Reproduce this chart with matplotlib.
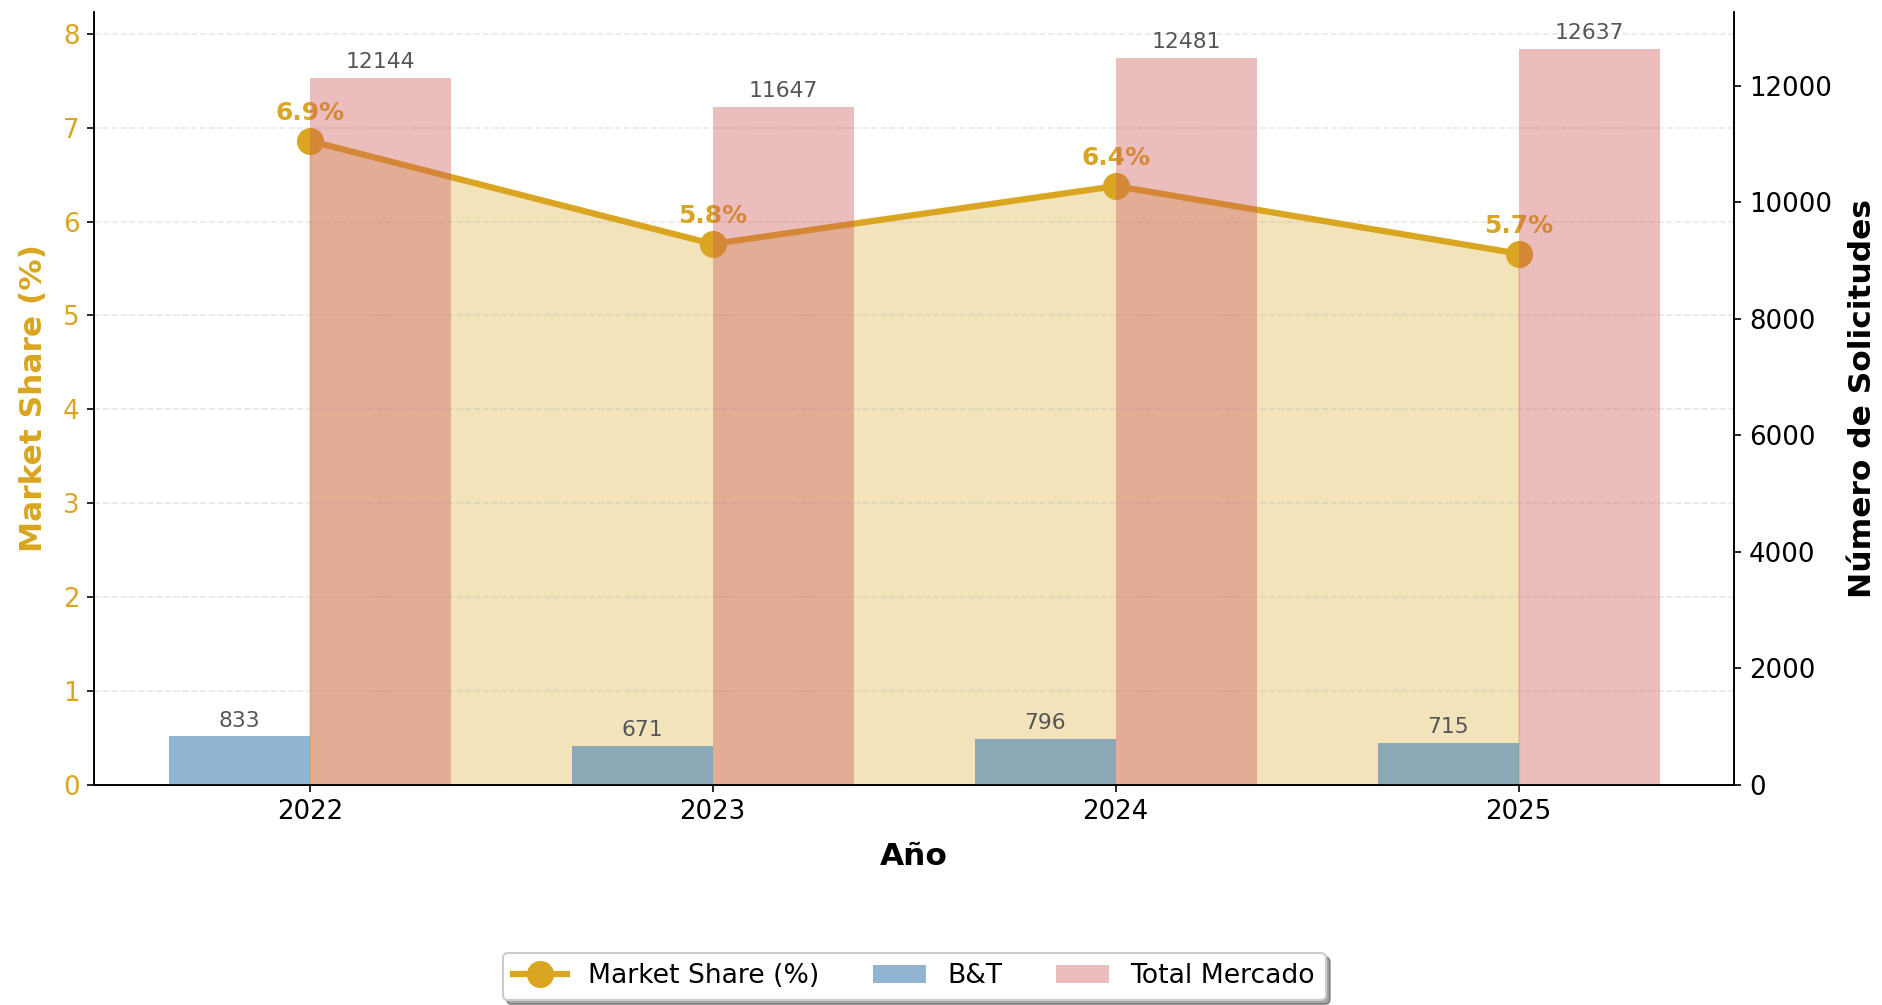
import numpy as np
import matplotlib
matplotlib.use("Agg")
import matplotlib.pyplot as plt

years = ["2022", "2023", "2024", "2025"]
bt_requests = [833, 671, 796, 715]
total_market = [12144, 11647, 12481, 12637]
market_share = [100 * b / t for b, t in zip(bt_requests, total_market)]

gold = "#DAA520"
x = np.arange(len(years))
width = 0.35

fig, ax1 = plt.subplots(figsize=(12.553, 6.7), dpi=150)
fig.subplots_adjust(left=0.05, right=0.921, top=0.988, bottom=0.219)

# market share line + fill on the left axis
line, = ax1.plot(x, market_share, color=gold, linewidth=3, marker="o",
                 markersize=12, label="Market Share (%)")
ax1.fill_between(x, market_share, color=gold, alpha=0.3)
for xi, ms in zip(x, market_share):
    ax1.text(xi, ms + 0.17, f"{ms:.1f}%", ha="center", va="bottom",
             fontsize=12, fontweight="bold", color=gold)

ax1.set_ylim(0, max(market_share) * 1.2)
ax1.set_ylabel("Market Share (%)", fontsize=15, fontweight="bold", color=gold, labelpad=7)
ax1.tick_params(axis="y", labelcolor=gold, labelsize=12.5)
ax1.tick_params(axis="x", labelsize=12.5)
ax1.set_xticks(x)
ax1.set_xticklabels(years)
ax1.set_xlabel("Año", fontsize=15, fontweight="bold", labelpad=8)
ax1.grid(axis="y", linestyle="--", alpha=0.3)
ax1.spines["top"].set_visible(False)

# bars on the right axis
ax2 = ax1.twinx()
b1 = ax2.bar(x - width / 2, bt_requests, width, color="steelblue", alpha=0.6, label="B&T")
b2 = ax2.bar(x + width / 2, total_market, width, color="indianred", alpha=0.4, label="Total Mercado")
for bars in (b1, b2):
    for rect in bars:
        h = rect.get_height()
        ax2.text(rect.get_x() + rect.get_width() / 2, h + 100, f"{int(h)}",
                 ha="center", va="bottom", fontsize=10.5, color="#555555")
ax2.set_ylabel("Número de Solicitudes", fontsize=15, fontweight="bold", labelpad=8)
ax2.tick_params(axis="y", labelsize=12.5)
ax2.spines["top"].set_visible(False)

handles = [line, b1, b2]
ax1.legend(handles, [h.get_label() for h in handles], loc="upper center",
           bbox_to_anchor=(0.5, -0.2), ncol=3, fontsize=12.8, shadow=True,
           frameon=True)

fig.savefig("out.png", dpi=150)
